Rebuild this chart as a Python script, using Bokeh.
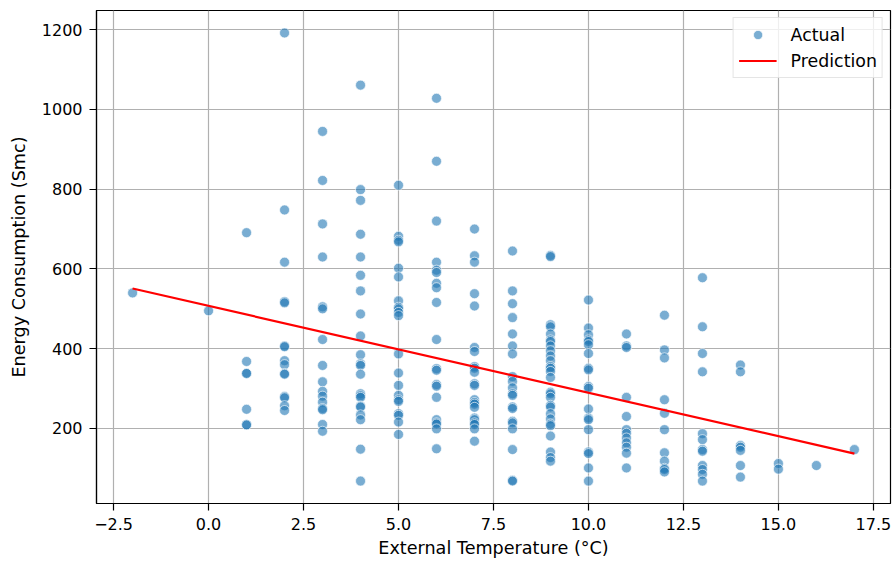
from bokeh.plotting import figure
from bokeh.models import FixedTicker, CustomJSTickFormatter, Range1d, ColumnDataSource
from bokeh.embed import file_html
from bokeh.resources import INLINE

# ---- data ----
temp_levels = [-2, 0, 1, 2, 3, 4, 5, 6, 7, 8, 9, 10, 11, 12, 13, 14, 15, 16, 17]

e_m2 = [540]
e_0 = [495]
e_1 = [691, 368, 338, 338, 248, 209, 209]
e_2 = [1192, 748, 617, 518, 515, 407, 405, 370, 360, 338, 336, 280, 277, 257, 245]
e_3 = [945, 822, 713, 630, 505, 500, 423, 358, 317, 293, 281, 266, 250, 247, 210, 193]
e_4 = [1061, 799, 772, 687, 630, 584, 545, 487, 432, 385, 362, 358, 336, 287, 282,
       278, 256, 254, 234, 222, 148, 68]
e_5 = [810, 682, 672, 668, 602, 580, 520, 504, 500, 491, 483, 387, 339, 308, 283,
       272, 268, 237, 233, 216, 185]
e_6 = [1028, 870, 720, 617, 597, 591, 564, 553, 516, 423, 350, 346, 310, 306, 278,
       222, 214, 211, 199, 149]
e_7 = [700, 633, 617, 538, 507, 403, 393, 355, 351, 341, 312, 308, 272, 265, 261,
       253, 226, 222, 214, 210, 199, 168]
e_8 = [645, 545, 513, 478, 437, 407, 387, 330, 318, 302, 287, 283, 254, 250, 218,
       214, 199, 147, 70, 68]
e_9 = [634, 631, 460, 455, 437, 422, 418, 407, 395, 382, 370, 355, 351, 343, 328,
       291, 287, 278, 258, 254, 237, 224, 211, 207, 181, 141, 127, 118]
e_10 = [522, 452, 435, 422, 418, 410, 388, 351, 347, 305, 301, 249, 226, 222, 197,
        141, 137, 101, 68]
e_11 = [437, 407, 403, 278, 230, 197, 188, 176, 164, 153, 138, 101]
e_12 = [484, 397, 377, 272, 238, 197, 139, 118, 100, 97, 91]
e_13 = [578, 455, 388, 342, 187, 172, 147, 143, 107, 97, 85, 68]
e_14 = [359, 342, 157, 153, 145, 107, 78]
e_15 = [112, 98]
e_16 = [107]
e_17 = [147]

energy_groups = [e_m2, e_0, e_1, e_2, e_3, e_4, e_5, e_6, e_7, e_8, e_9, e_10,
                 e_11, e_12, e_13, e_14, e_15, e_16, e_17]

pred_temp = [-2, 17]
pred_energy = [551, 137]

x_ticks = [-2.5, 0.0, 2.5, 5.0, 7.5, 10.0, 12.5, 15.0, 17.5]
y_ticks = [200, 400, 600, 800, 1000, 1200]

# ---- build table ----
xs, ys = [], []
for t, grp in zip(temp_levels, energy_groups):
    for v in grp:
        xs.append(t)
        ys.append(v)
src = ColumnDataSource(dict(temp=xs, energy=ys))

# matplotlib-like 5% margins
xmin, xmax = min(xs + pred_temp), max(xs + pred_temp)
ymin, ymax = min(ys), max(ys)
xpad = 0.05 * (xmax - xmin)
ypad = 0.05 * (ymax - ymin)

FONT = "DejaVu Sans"
TICK_FS = "16px"
LABEL_FS = "17.6px"
LEGEND_FS = "17.4px"

p = figure(width=894, height=562, output_backend="svg", toolbar_location=None,
           x_range=Range1d(xmin - xpad, xmax + xpad),
           y_range=Range1d(ymin - ypad, ymax + ypad),
           min_border_left=96, min_border_right=4, min_border_top=10,
           min_border_bottom=59)
p.background_fill_color = "white"
p.border_fill_color = "white"
p.outline_line_color = "black"
p.outline_line_width = 1.2
p.outline_line_alpha = 1.0

p.scatter("temp", "energy", source=src, size=10, marker="circle",
          fill_color="#1f77b4", fill_alpha=0.6,
          line_color="white", line_alpha=0.8, line_width=0.8,
          legend_label="Actual")
p.line(pred_temp, pred_energy, line_color="red", line_width=2.2,
       legend_label="Prediction")

# axes
p.xaxis.ticker = FixedTicker(ticks=x_ticks)
p.yaxis.ticker = FixedTicker(ticks=y_ticks)
p.xaxis.formatter = CustomJSTickFormatter(
    code="return tick.toFixed(1).replace('-', '\u2212');")
p.xaxis.axis_label = "External Temperature (°C)"
p.yaxis.axis_label = "Energy Consumption (Smc)"
for ax in (p.xaxis[0], p.yaxis[0]):
    ax.axis_label_text_font = FONT
    ax.axis_label_text_font_size = LABEL_FS
    ax.axis_label_text_font_style = "normal"
    ax.axis_label_text_color = "black"
    ax.major_label_text_font = FONT
    ax.major_label_text_font_size = TICK_FS
    ax.major_label_text_color = "black"
    ax.axis_line_color = "black"
    ax.axis_line_width = 1.2
    ax.major_tick_line_color = "black"
    ax.major_tick_line_width = 1.2
    ax.major_tick_out = 7
    ax.major_tick_in = 0
    ax.minor_tick_out = 0
    ax.minor_tick_in = 0
p.yaxis.major_label_standoff = 7
p.xaxis.major_label_standoff = 7
p.yaxis.axis_label_standoff = 10
p.xaxis.axis_label_standoff = 5

# grid
for g in (p.xgrid[0], p.ygrid[0]):
    g.grid_line_color = "#b0b0b0"
    g.grid_line_width = 1.2
    g.grid_line_alpha = 1.0
p.xgrid.ticker = FixedTicker(ticks=x_ticks)
p.ygrid.ticker = FixedTicker(ticks=y_ticks)

# legend
lg = p.legend[0]
lg.location = "top_right"
lg.margin = 7
lg.padding = 5
lg.spacing = 3
lg.glyph_width = 38
lg.glyph_height = 23
lg.label_height = 23
lg.label_standoff = 14
lg.label_text_font = FONT
lg.label_text_font_size = LEGEND_FS
lg.label_text_color = "black"
lg.border_line_color = "#cccccc"
lg.border_line_width = 1
lg.background_fill_color = "white"
lg.background_fill_alpha = 0.8

open("out.html", "w").write(file_html(p, INLINE))
